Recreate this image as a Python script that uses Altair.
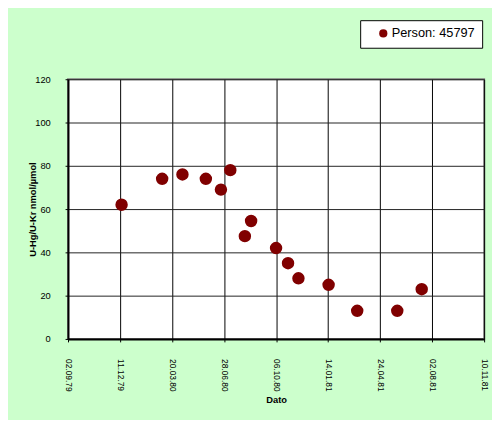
import altair as alt
import pandas as pd

# ---- data ----
series_name = "Person: 45797"
dates = ["1979-12-14", "1980-03-01", "1980-04-09", "1980-05-24", "1980-06-22",
         "1980-07-10", "1980-08-07", "1980-08-19", "1980-10-06", "1980-10-29",
         "1980-11-18", "1981-01-15", "1981-03-11", "1981-05-27", "1981-07-13"]
values = [62, 74, 76, 74, 69, 78, 47.5, 54.5, 42, 35, 28, 25, 13, 13, 23]
x_ticks = ["1979-09-02", "1979-12-11", "1980-03-20", "1980-06-28", "1980-10-06",
           "1981-01-14", "1981-04-24", "1981-08-02", "1981-11-10"]
y_ticks = [0, 20, 40, 60, 80, 100, 120]

df = pd.DataFrame({"Dato": dates, "value": values, "series": [series_name] * len(dates)})


def dt(s):
    y, m, d = map(int, s.split("-"))
    return alt.DateTime(year=y, month=m, date=d, utc=True)


FONT = "Liberation Sans"

chart = alt.Chart(df).mark_circle(size=160, opacity=1).encode(
    x=alt.X(
        "Dato:T",
        scale=alt.Scale(type="utc", domain=[dt(x_ticks[0]), dt(x_ticks[-1])], nice=False),
        axis=alt.Axis(
            values=[dt(t) for t in x_ticks],
            format="%d.%m.%y",
            labelAngle=90,
            labelAlign="left",
            labelBaseline="middle",
            labelFont=FONT,
            labelFontSize=8.5,
            labelColor="black",
            labelPadding=17,
            labelOverlap=False,
            tickSize=3,
            tickColor="black",
            domainColor="black",
            domainWidth=2,
            grid=True,
            gridColor="#000000",
            gridWidth=1,
            gridOpacity=1,
            title="Dato",
            titleFont=FONT,
            titleFontSize=9.5,
            titleFontWeight="bold",
            titleColor="black",
            titleX=211.5,
            titleY=62,
            titleAlign="center",
            titleBaseline="middle",
        ),
    ),
    y=alt.Y(
        "value:Q",
        scale=alt.Scale(domain=[0, 120], nice=False),
        axis=alt.Axis(
            values=y_ticks,
            labelFont=FONT,
            labelFontSize=9.5,
            labelColor="black",
            labelPadding=15,
            tickSize=3,
            tickColor="black",
            domainColor="black",
            domainWidth=2,
            grid=True,
            gridColor="#222222",
            gridWidth=1,
            gridOpacity=1,
            title="U-Hg/U-Kr nmol/µmol",
            titleFont=FONT,
            titleFontSize=9.5,
            titleFontWeight="bold",
            titleColor="black",
            titleAngle=270,
            titleX=-36,
            titleY=132,
            titleAlign="center",
            titleBaseline="middle",
        ),
    ),
    color=alt.Color(
        "series:N",
        scale=alt.Scale(range=["#800000"]),
        legend=alt.Legend(
            orient="none",
            legendX=297,
            legendY=-60,
            title=None,
            padding=7,
            strokeColor="black",
            fillColor="white",
            symbolType="circle",
            symbolSize=70,
            symbolOffset=10,
            symbolStrokeWidth=0,
            labelOffset=2,
            labelFont=FONT,
            labelFontSize=13,
            labelColor="black",
        ),
    ),
).properties(
    width=423,
    height=264,
    background="#CCFFCC",
    padding={"left": 61, "top": 69, "right": 8, "bottom": 79},
    autosize=alt.AutoSizeParams(type="none"),
).configure_view(
    fill="white",
    stroke="#808080",
    strokeWidth=2,
)

chart.save("out.html", embed_options={"renderer": "svg", "actions": False})
